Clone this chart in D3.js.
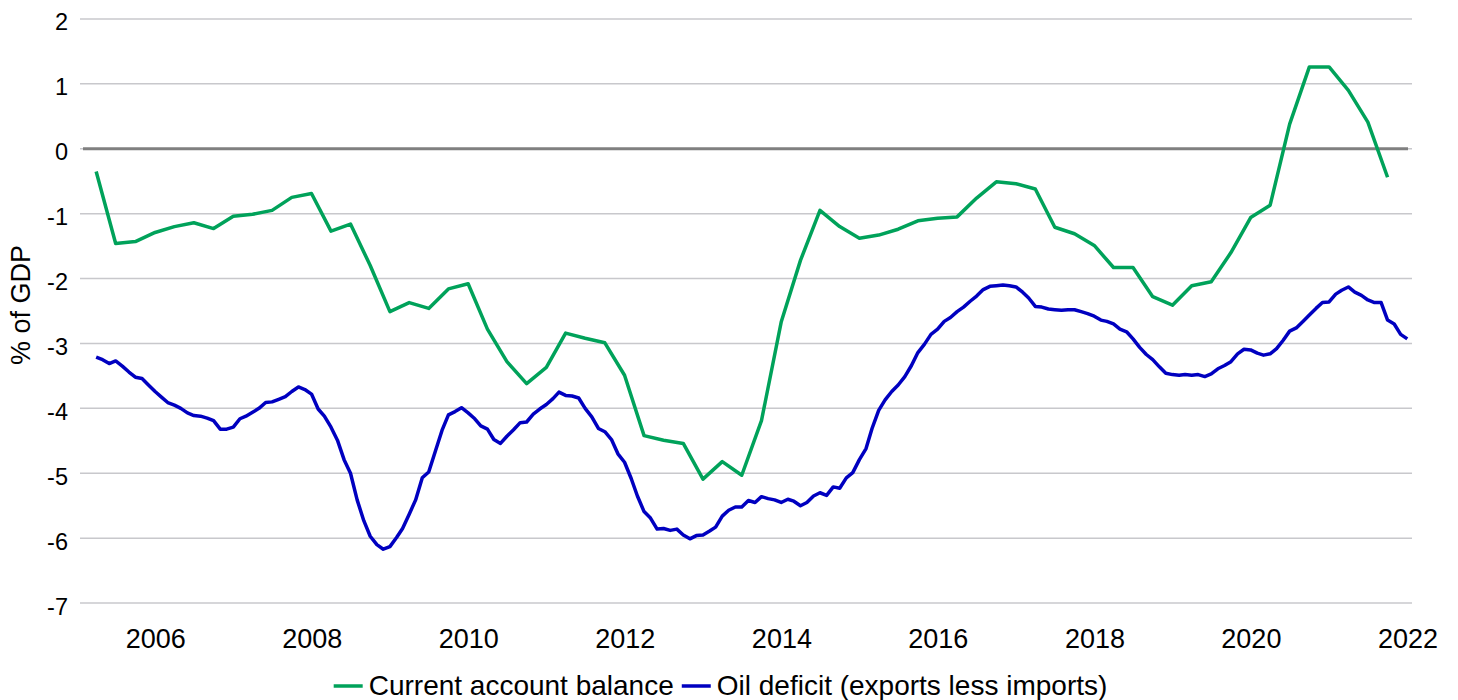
<!DOCTYPE html>
<html>
<head>
<meta charset="utf-8">
<script src="https://cdn.jsdelivr.net/npm/d3@7/dist/d3.min.js"></script>
<style>
  html, body { margin: 0; padding: 0; background: #ffffff; }
  svg { display: block; font-family: "Liberation Sans", Arial, Helvetica, sans-serif; }
</style>
</head>
<body>
<svg id="chart" width="1458" height="700"></svg>
<script>
// ---- Data ----
const seriesNames = ["Current account balance", "Oil deficit (exports less imports)"];

// Current account balance, % of GDP, quarterly from Q1 2005 to Q3 2021
const currentAccount = [
  -0.35, -1.46, -1.43, -1.29, -1.20, -1.14, -1.23, -1.04, -1.01, -0.95,
  -0.75, -0.69, -1.27, -1.16, -1.80, -2.51, -2.37, -2.46, -2.16, -2.08,
  -2.78, -3.28, -3.62, -3.37, -2.84, -2.92, -2.99, -3.49, -4.42, -4.49,
  -4.54, -5.09, -4.82, -5.03, -4.19, -2.67, -1.72, -0.95, -1.20, -1.38,
  -1.33, -1.24, -1.11, -1.07, -1.05, -0.76, -0.51, -0.54, -0.62, -1.21,
  -1.31, -1.49, -1.83, -1.83, -2.28, -2.41, -2.11, -2.05, -1.60, -1.06,
  -0.87, 0.38, 1.26, 1.26, 0.90, 0.41, -0.44
];

// Oil deficit, % of GDP, monthly from Mar 2005 to Dec 2021
const oilDeficit = [
  -3.21, -3.25, -3.31, -3.27, -3.35, -3.44, -3.52, -3.54, -3.64, -3.74,
  -3.83, -3.91, -3.95, -4.00, -4.07, -4.11, -4.12, -4.15, -4.19, -4.32,
  -4.32, -4.29, -4.16, -4.12, -4.06, -4.00, -3.91, -3.90, -3.86, -3.82,
  -3.74, -3.67, -3.71, -3.78, -4.01, -4.12, -4.29, -4.49, -4.79, -5.00,
  -5.41, -5.73, -5.97, -6.10, -6.17, -6.13, -5.99, -5.85, -5.63, -5.41,
  -5.07, -4.98, -4.66, -4.34, -4.10, -4.05, -3.99, -4.07, -4.16, -4.27,
  -4.32, -4.48, -4.54, -4.43, -4.33, -4.22, -4.21, -4.09, -4.01, -3.94,
  -3.85, -3.75, -3.80, -3.81, -3.84, -4.00, -4.13, -4.31, -4.36, -4.48,
  -4.70, -4.83, -5.08, -5.35, -5.59, -5.69, -5.86, -5.85, -5.88, -5.86,
  -5.95, -6.01, -5.96, -5.95, -5.89, -5.83, -5.66, -5.57, -5.52, -5.52,
  -5.42, -5.45, -5.36, -5.39, -5.41, -5.45, -5.40, -5.43, -5.50, -5.45,
  -5.35, -5.30, -5.34, -5.21, -5.23, -5.07, -4.99, -4.79, -4.62, -4.31,
  -4.03, -3.87, -3.74, -3.64, -3.51, -3.34, -3.14, -3.01, -2.86, -2.78,
  -2.66, -2.60, -2.51, -2.44, -2.35, -2.27, -2.17, -2.12, -2.11, -2.10,
  -2.11, -2.13, -2.21, -2.30, -2.43, -2.44, -2.47, -2.48, -2.49, -2.48,
  -2.48, -2.51, -2.54, -2.58, -2.64, -2.66, -2.70, -2.78, -2.82, -2.93,
  -3.06, -3.17, -3.25, -3.36, -3.46, -3.48, -3.49, -3.48, -3.49, -3.48,
  -3.51, -3.47, -3.39, -3.34, -3.28, -3.16, -3.09, -3.10, -3.15, -3.18,
  -3.16, -3.08, -2.95, -2.81, -2.76, -2.66, -2.56, -2.46, -2.37, -2.36,
  -2.24, -2.18, -2.13, -2.21, -2.26, -2.33, -2.37, -2.37, -2.64, -2.70,
  -2.86, -2.93
];

const yTicks = [2, 1, 0, -1, -2, -3, -4, -5, -6, -7];
const xTickYears = [2006, 2008, 2010, 2012, 2014, 2016, 2018, 2020, 2022];
const yTitle = "% of GDP";

// Dates: end of quarter / end of month
const caDates = currentAccount.map((_, i) => new Date(2005, 3 + 3 * i, 0));
const oilDates = oilDeficit.map((_, i) => new Date(2005, 3 + i, 0));

// ---- Layout ----
const plotLeft = 80, plotRight = 1412;
const svg = d3.select("#chart");

const x = d3.scaleTime()
  .domain([new Date(2006, 0, 1), new Date(2022, 0, 1)])
  .range([155.3, 1407.5]);
const y = d3.scaleLinear().domain([-7, 2]).range([603.1, 18.9]);

// Gridlines
svg.append("g").selectAll("line").data(yTicks).join("line")
  .attr("x1", plotLeft).attr("x2", plotRight)
  .attr("y1", d => y(d)).attr("y2", d => y(d))
  .attr("stroke", "#c8c8cc").attr("stroke-width", 1.5);

// Zero (category axis) line
svg.append("line")
  .attr("x1", 83).attr("x2", 1408)
  .attr("y1", y(0)).attr("y2", y(0))
  .attr("stroke", "#808080").attr("stroke-width", 3);

// Y axis labels (plain hyphen minus, as in the reference)
const yAxis = svg.append("g").attr("transform", "translate(68,0)")
  .call(d3.axisLeft(y).tickValues(yTicks).tickSize(0).tickPadding(0).tickFormat(d => String(d)));
yAxis.select(".domain").remove();
yAxis.selectAll("text")
  .attr("dy", null).attr("y", 11)
  .attr("font-size", 23.5).attr("fill", "#000")
  .attr("font-family", "'Liberation Sans', Arial, sans-serif");

// X axis labels
const xAxis = svg.append("g").attr("transform", `translate(0,${y(-7)})`)
  .call(d3.axisBottom(x).tickValues(xTickYears.map(yr => new Date(yr, 0, 1)))
    .tickSize(0).tickFormat(d3.timeFormat("%Y")));
xAxis.select(".domain").remove();
xAxis.selectAll("text")
  .attr("dy", null).attr("y", 45)
  .attr("font-size", 27).attr("fill", "#000")
  .attr("font-family", "'Liberation Sans', Arial, sans-serif");

// Y axis title
svg.append("text")
  .attr("transform", "translate(30,305) rotate(-90)")
  .attr("text-anchor", "middle")
  .attr("font-size", 27).attr("fill", "#000")
  .text(yTitle);

// Lines
const line = d3.line().x(d => x(d[0])).y(d => y(d[1]));
const colors = ["#00a25a", "#0000c0"];

svg.append("path")
  .datum(oilDates.map((d, i) => [d, oilDeficit[i]]))
  .attr("fill", "none").attr("stroke", colors[1]).attr("stroke-width", 3.5)
  .attr("stroke-linejoin", "round").attr("d", line);

svg.append("path")
  .datum(caDates.map((d, i) => [d, currentAccount[i]]))
  .attr("fill", "none").attr("stroke", colors[0]).attr("stroke-width", 3.5)
  .attr("stroke-linejoin", "round").attr("d", line);

// Legend
const legend = svg.append("g");
const legendY = 686;
let cursor = 0;
seriesNames.forEach((name, i) => {
  const g = legend.append("g");
  g.append("line").attr("x1", cursor).attr("x2", cursor + 29)
    .attr("y1", legendY).attr("y2", legendY)
    .attr("stroke", colors[i]).attr("stroke-width", 3.5);
  const t = g.append("text").attr("x", cursor + 35).attr("y", legendY + 9)
    .attr("font-size", 28).attr("fill", "#000").text(name);
  const w = t.node().getComputedTextLength();
  cursor += 35 + w + 8;
});
const totalW = cursor - 8;
legend.attr("transform", `translate(${720.5 - totalW / 2},0)`);
</script>
</body>
</html>
